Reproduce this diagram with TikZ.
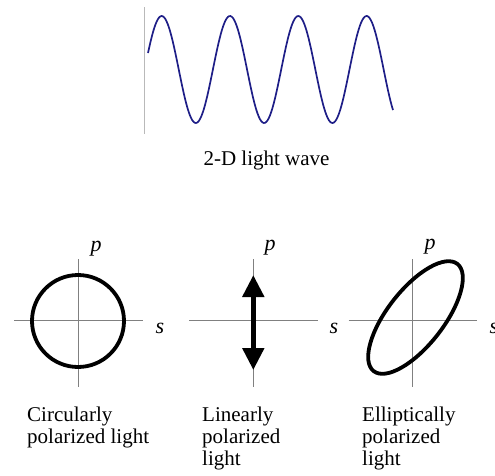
\documentclass[tikz,border=0pt]{standalone}
\usepackage{fontspec}
\setmainfont{Liberation Serif}
\usetikzlibrary{arrows.meta}
\definecolor{waveBlue}{RGB}{30, 30, 135}

\begin{document}
\begin{tikzpicture}[x=1pt, y=-1pt,
    axis/.style={gray, line width=1pt},
    pol/.style={black, line width=3.8pt},
    lbl/.style={font=\fontsize{21}{22}\selectfont, inner sep=0pt},
    captext/.style={font=\fontsize{21}{22}\selectfont, align=left, anchor=north west, inner sep=0pt}]
        \useasboundingbox (0,0) rectangle (495,475);

        % 2-D wave
        \coordinate (w0) at (144.7,7);
        \coordinate (w1) at (144.7,134);
        \draw[gray!55, line width=1pt] (w0) -- (w1);
        \draw[waveBlue, line width=1.7pt, domain=148:393, samples=200, smooth]
          plot (\x, {69.5 - 53.5*sin(5.2709*(\x-144.6))});
        \node[lbl] (wave) at (266.5,160) {2-D light wave};

        % axes of the three sketches
        \foreach \n/\cx in {c/78, l/253.3, e/412.7} {
          \coordinate (\n N) at (\cx,259);
          \coordinate (\n S) at (\cx,387);
          \coordinate (\n W) at (\cx-64,320.7);
          \coordinate (\n E) at (\cx+64.5,320.7);
          \draw[axis] (\n N) -- (\n S);
          \draw[axis] (\n W) -- (\n E);
        }

        % circular
        \coordinate (cc) at (78,321);
        \draw[pol] (cc) circle (46);
        \node[lbl, font=\fontsize{22}{22}\selectfont\itshape] (cp) at (96,249) {p};
        \node[lbl, font=\fontsize{22}{22}\selectfont\itshape] (cs) at (160,328) {s};

        % linear
        \coordinate (lt) at (253.3,275);
        \coordinate (lb) at (253.3,370);
        \draw[line width=5pt, {Triangle[length=22pt, width=21pt]}-{Triangle[length=22pt, width=21pt]}] (lt) -- (lb);
        \node[lbl, font=\fontsize{22}{22}\selectfont\itshape] (lp) at (270,248) {p};
        \node[lbl, font=\fontsize{22}{22}\selectfont\itshape] (ls) at (334,328) {s};

        % elliptical
        \coordinate (ec) at (415.5,317.5);
        \draw[pol, rotate around={52:(ec)}] (ec) ellipse [x radius=68, y radius=28];
        \node[lbl, font=\fontsize{22}{22}\selectfont\itshape] (ep) at (430,247) {p};
        \node[lbl, font=\fontsize{22}{22}\selectfont\itshape] (es) at (494,328) {s};

        % captions
        \node[captext] (ct) at (27,407) {Circularly\\polarized light};
        \node[captext] (lt2) at (202,407) {Linearly\\polarized\\light};
        \node[captext] (et) at (362,407) {Elliptically\\polarized\\light};
      \end{tikzpicture}
\end{document}
